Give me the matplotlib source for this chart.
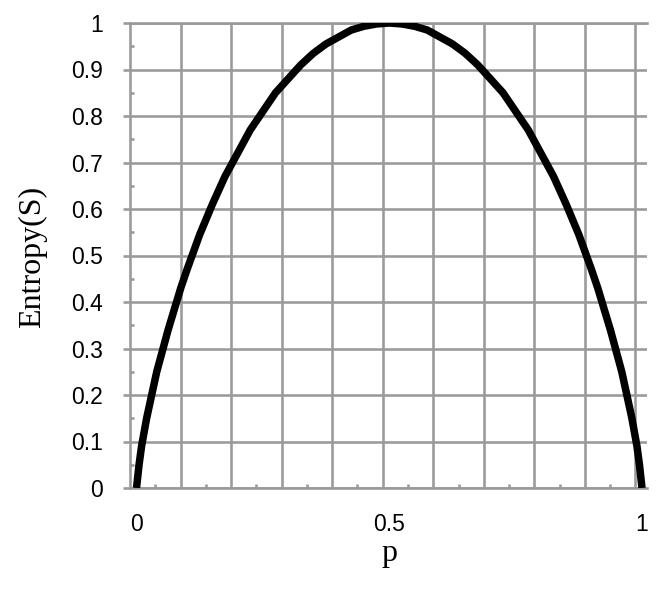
import matplotlib
matplotlib.use("Agg")
import matplotlib.pyplot as plt
from matplotlib.ticker import FixedLocator

# Data
p_values = [0.0, 0.005, 0.01, 0.02, 0.03, 0.04, 0.05, 0.0625, 0.075, 0.0875, 0.1,
            0.125, 0.15, 0.175, 0.2, 0.225, 0.25, 0.275, 0.3, 0.325, 0.35, 0.375,
            0.4, 0.425, 0.45, 0.475, 0.5, 0.525, 0.55, 0.575, 0.6, 0.625, 0.65,
            0.675, 0.7, 0.725, 0.75, 0.775, 0.8, 0.825, 0.85, 0.875, 0.9, 0.9125,
            0.925, 0.9375, 0.95, 0.96, 0.97, 0.98, 0.99, 0.995, 1.0]
entropy = [0.0, 0.05, 0.09, 0.15, 0.2, 0.25, 0.29, 0.34, 0.385, 0.43, 0.47,
           0.545, 0.61, 0.67, 0.72, 0.77, 0.81, 0.85, 0.88, 0.91, 0.935, 0.955,
           0.97, 0.985, 0.993, 0.998, 1.0, 0.998, 0.993, 0.985, 0.97, 0.955, 0.935,
           0.91, 0.88, 0.85, 0.81, 0.77, 0.72, 0.67, 0.61, 0.545, 0.47, 0.43,
           0.385, 0.34, 0.29, 0.25, 0.2, 0.15, 0.09, 0.05, 0.0]
x_tick_values = [0, 0.5, 1]
x_tick_labels = ["0", "0.5", "1"]
y_tick_values = [0, 0.1, 0.2, 0.3, 0.4, 0.5, 0.6, 0.7, 0.8, 0.9, 1.0]
y_tick_labels = ["0", "0.1", "0.2", "0.3", "0.4", "0.5", "0.6", "0.7", "0.8", "0.9", "1"]
x_label = "p"
y_label = "Entropy(S)"

W, H = 668, 590
fig = plt.figure(figsize=(W / 100, H / 100), dpi=100)
left, right, top, bottom = 130, 647, 23, 488
ax = fig.add_axes([left / W, (H - bottom) / H, (right - left) / W, (bottom - top) / H])

px = 72 / 100  # points per pixel
grid_color = "#9a9a9a"
lw_grid = 2.6 * px

x_min, x_max = -0.0129, 1.0099
ax.set_xlim(x_min, x_max)
ax.set_ylim(0, 1)

# vertical gridlines (offset grid as in the original)
grid_x = [x_min + 0.1 * k for k in range(11)]
ax.vlines(grid_x[1:], 0, 1, color=grid_color, lw=lw_grid, zorder=1)
minor_x = [g + 0.05 for g in grid_x[:-1]]

ax.yaxis.grid(True, color=grid_color, lw=lw_grid, zorder=1)
ax.set_axisbelow(True)

ax.set_xticks(x_tick_values)
ax.set_xticklabels(x_tick_labels, fontsize=16.5, family="Liberation Sans")
ax.xaxis.set_minor_locator(FixedLocator(minor_x))

ax.set_yticks(y_tick_values)
ax.set_yticklabels(y_tick_labels, fontsize=16.5, family="Liberation Sans")
ax.yaxis.set_minor_locator(FixedLocator([v + 0.05 for v in y_tick_values[:-1]]))

ax.tick_params(axis="x", which="major", length=0, pad=25 * px)
ax.tick_params(axis="x", which="minor", direction="in", length=4 * px, width=lw_grid, color=grid_color)
ax.tick_params(axis="y", which="major", direction="out", length=7 * px, width=lw_grid,
               color=grid_color, pad=20 * px)
ax.tick_params(axis="y", which="minor", direction="in", length=4 * px, width=lw_grid, color=grid_color)

for s in ["left", "bottom", "top"]:
    ax.spines[s].set_color(grid_color)
    ax.spines[s].set_linewidth(lw_grid)
ax.spines["right"].set_visible(False)

ax.plot(p_values, entropy, color="black", lw=7.5 * px, solid_capstyle="butt",
        solid_joinstyle="round", zorder=3)

fig.text(389 / W, 1 - 553 / H, x_label, fontsize=23, family="Liberation Serif",
         ha="center", va="center")
fig.text(33 / W, 1 - 257 / H, y_label, fontsize=23, family="Liberation Serif",
         ha="center", va="center", rotation=90)

fig.savefig("out.png", dpi=100)
